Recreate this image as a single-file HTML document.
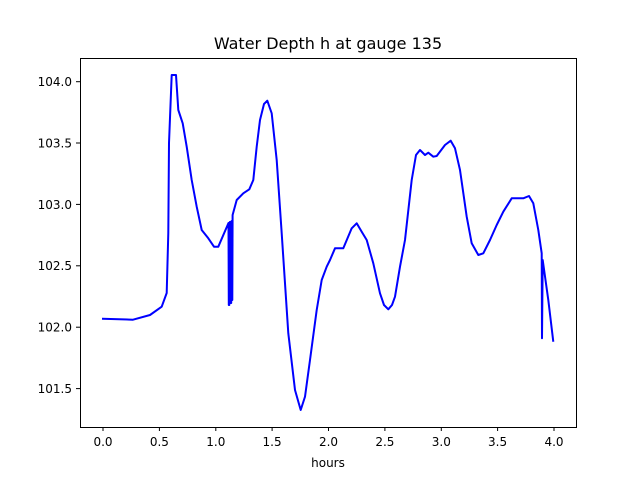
<!DOCTYPE html>
<html><head><meta charset="utf-8"><style>body{margin:0;background:#fff}</style></head><body>
<svg width="640" height="480" xmlns="http://www.w3.org/2000/svg" font-family="DejaVu Sans, Liberation Sans, sans-serif" font-size="13">
<rect width="640" height="480" fill="#fff"/>
<text x="328" y="49" text-anchor="middle" font-size="16">Water Depth h at gauge 135</text>
<polyline fill="none" stroke="#0000ff" stroke-width="2" stroke-linejoin="round" points="
102,318.7 133,319.7 150,315 161.7,306.7 166.7,293 168.3,233 169,143 171.7,75 176,75 178.3,110 182.7,123.3 186.7,146.7 191.7,180 196.7,206.7 201.7,230 208.3,238.3 214,246.7 218.3,246.7 228.5,223 228.8,305 229.3,305 229.8,222 230.5,222 230.8,303 231.2,303 231.6,221 232,221 232.3,300 232.6,215 236.7,200 243.3,193.3 249.3,189.3 253.3,180 256.7,146.7 260,120 264,104 267.3,100.7 271.7,113.3 276.7,160 281.7,233.3 288.3,333.3 295,390 300.7,410 305,396.7 310,360 316.7,310 321.7,280 326.7,266.7 330,260 335,248.3 343.3,248.3 351.7,228.3 356.7,223.3 361.7,231.7 366.7,240 373.3,263.3 380,293.3 384,305 388.3,309.3 392,305 395,296.7 400,266.7 405,240 411.7,180 416,155 420,150 425,155 428.3,152.7 433.3,156.7 436.7,156 445,145 450.7,140.7 455,148.3 460,170 466.7,216.7 471.7,243.3 478.3,255 483.3,253.3 490,240 496.7,225 503.3,211.7 511.7,198.3 523.3,198.3 529,196 533.3,203.3 538.3,230 541.7,253.3 542,338.3 542.7,260 548.3,300 553.3,341.7"/>
<rect x="80.5" y="58.5" width="496" height="369" fill="none" stroke="#000" stroke-width="1"/>
<g stroke="#000" stroke-width="1">
<line x1="103" y1="427" x2="103" y2="431"/><line x1="159.4" y1="427" x2="159.4" y2="431"/><line x1="215.8" y1="427" x2="215.8" y2="431"/><line x1="272.1" y1="427" x2="272.1" y2="431"/><line x1="328.5" y1="427" x2="328.5" y2="431"/><line x1="384.9" y1="427" x2="384.9" y2="431"/><line x1="441.3" y1="427" x2="441.3" y2="431"/><line x1="497.6" y1="427" x2="497.6" y2="431"/><line x1="554" y1="427" x2="554" y2="431"/>
<line x1="76" y1="81.7" x2="80" y2="81.7"/><line x1="76" y1="143" x2="80" y2="143"/><line x1="76" y1="204.4" x2="80" y2="204.4"/><line x1="76" y1="265.8" x2="80" y2="265.8"/><line x1="76" y1="327.2" x2="80" y2="327.2"/><line x1="76" y1="388.6" x2="80" y2="388.6"/>
</g>
<g text-anchor="middle" font-size="12">
<text x="103" y="446">0.0</text><text x="159.4" y="446">0.5</text><text x="215.8" y="446">1.0</text><text x="272.1" y="446">1.5</text><text x="328.5" y="446">2.0</text><text x="384.9" y="446">2.5</text><text x="441.3" y="446">3.0</text><text x="497.6" y="446">3.5</text><text x="554" y="446">4.0</text>
<text x="328" y="467">hours</text>
</g>
<g text-anchor="end" font-size="12">
<text x="72" y="86">104.0</text><text x="72" y="147.5">103.5</text><text x="72" y="208.8">103.0</text><text x="72" y="270.2">102.5</text><text x="72" y="331.6">102.0</text><text x="72" y="393">101.5</text>
</g>
</svg>
</body></html>
